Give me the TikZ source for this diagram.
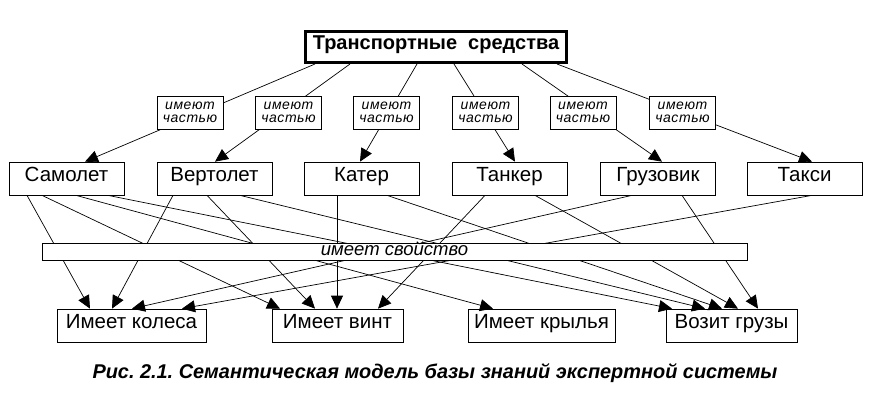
\documentclass[tikz,border=0pt]{standalone}
\usepackage{fontspec}
\setmainfont{Liberation Sans}
\newfontfamily\spaced[LetterSpace=4]{Liberation Sans}
\usetikzlibrary{calc, positioning, arrows.meta}
\frenchspacing

\begin{document}
\begin{tikzpicture}[x=1pt, y=-1pt, line width=0.7pt,
  obj/.style={draw, minimum width=115, minimum height=33, inner sep=0pt, text height=0.75em, text depth=0.2em, font=\fontsize{20.5}{24}\selectfont},
  rel/.style={draw, fill=white, minimum width=66, minimum height=33, inner sep=0pt, align=center, font=\spaced\itshape\fontsize{14}{13}\selectfont},
  arr/.style={-{Triangle[length=13pt, width=12pt]}}]
\useasboundingbox (0,0) rectangle (878,397);
\node[draw, line width=3pt, minimum width=261, minimum height=31, inner sep=0pt, text height=0.75em, text depth=0.2em, font=\bfseries\fontsize{20}{24}\selectfont] (tc) at (436,47) {Транспортные\ \ средства};
\node[obj] (samolet) at (66.5,178.5) {Самолет};
\node[obj] (vertolet) at (214.5,178.5) {Вертолет};
\node[obj] (kater) at (361.5,178.5) {Катер};
\node[obj] (tanker) at (509.5,178.5) {Танкер};
\node[obj] (gruzovik) at (658,178.5) {Грузовик};
\node[obj] (taksi) at (804.5,178.5) {Такси};
\node[obj, minimum width=149] (kolesa) at (131.5,325.5) {Имеет колеса};
\node[obj, minimum width=131] (vint) at (337.5,325.5) {Имеет винт};
\node[obj, minimum width=147] (krylya) at (541.5,325.5) {Имеет крылья};
\node[obj, minimum width=131] (gruzy) at (731.5,325.5) {Возит грузы};
% имеют частью
\draw[arr] ([xshift=-121]tc.south) -- ([xshift=18.5]samolet.north);
\draw[arr] ([xshift=-86]tc.south) -- ([xshift=0.5]vertolet.north);
\draw[arr] ([xshift=-19]tc.south) -- ([xshift=-1.5]kater.north);
\draw[arr] ([xshift=18]tc.south) -- ([xshift=5.5]tanker.north);
\draw[arr] ([xshift=86]tc.south) -- ([xshift=4]gruzovik.north);
\draw[arr] ([xshift=121]tc.south) -- ([xshift=7.5]taksi.north);
\node[rel] (r1) at (190,112.5) {имеют\\частью};
\node[rel] (r2) at (288.5,112.5) {имеют\\частью};
\node[rel] (r3) at (386.5,112.5) {имеют\\частью};
\node[rel] (r4) at (485.5,112.5) {имеют\\частью};
\node[rel] (r5) at (583,112.5) {имеют\\частью};
\node[rel] (r6) at (682.5,112.5) {имеют\\частью};
% имеет свойство
\draw[arr] ([xshift=-39.5]samolet.south) -- ([xshift=-41.5]kolesa.north);
\draw[arr] ([xshift=-24.5]samolet.south) -- ([xshift=-57.5]vint.north);
\draw[arr] ([xshift=9.5]samolet.south) -- ([xshift=-48.5]krylya.north);
\draw[arr] ([xshift=41.5]samolet.south) -- ([xshift=-59.5]gruzy.north);
\draw[arr] ([xshift=-41.5]vertolet.south) -- ([xshift=-19.5]kolesa.north);
\draw[arr] ([xshift=-7.5]vertolet.south) -- ([xshift=-22.5]vint.north);
\draw[arr] ([xshift=25.5]vertolet.south) -- ([xshift=-26.5]gruzy.north);
\draw[arr] ([xshift=-24.5]kater.south) -- ([xshift=-0.5]vint.north);
\draw[arr] ([xshift=25.5]kater.south) -- ([xshift=-9.5]gruzy.north);
\draw[arr] ([xshift=-24.5]tanker.south) -- ([xshift=40.5]vint.north);
\draw[arr] ([xshift=25.5]tanker.south) -- ([xshift=6.5]gruzy.north);
\draw[arr] ([xshift=-26]gruzovik.south) -- ([xshift=0.5]kolesa.north);
\draw[arr] ([xshift=24]gruzovik.south) -- ([xshift=26.5]gruzy.north);
\draw[arr] ([xshift=7.5]taksi.south) -- ([xshift=50.5]kolesa.north);
\node[draw, fill=white, minimum width=705, minimum height=17, inner sep=0pt, text height=11pt, text depth=4pt, font=\itshape\fontsize{18.5}{20}\selectfont] (svoistvo) at (394.5,251.5) {имеет свойство};
\node[anchor=base, font=\bfseries\itshape\fontsize{19.9}{22}\selectfont] (caption) at (435,378) {Рис. 2.1. Семантическая модель базы знаний экспертной системы};
\end{tikzpicture}
\end{document}
